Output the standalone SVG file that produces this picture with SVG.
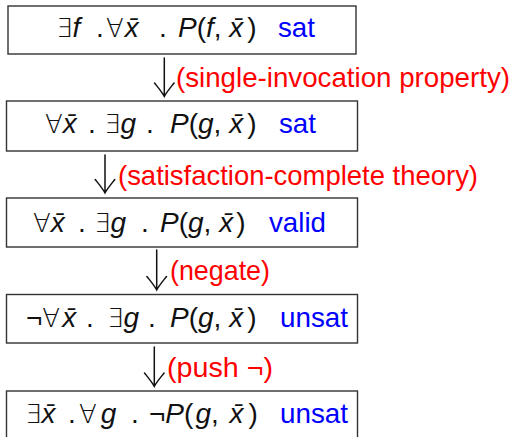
<svg xmlns="http://www.w3.org/2000/svg" width="514" height="437" viewBox="0 0 514 437">
<style>
  .box { fill: #ffffff; stroke: #333333; stroke-width: 1.4; }
  .m { font-family: "Liberation Sans", "DejaVu Sans", sans-serif; font-size: 28px; fill: #111111; }
  .q { font-family: "DejaVu Sans", sans-serif; font-size: 26px; font-weight: 200; }
  .it { font-style: italic; }
  .st { font-family: "Liberation Sans", sans-serif; font-size: 28px; fill: #0000ff; }
  .lbl { font-family: "Liberation Sans", "DejaVu Sans", sans-serif; font-size: 28px; fill: #ff0000; }
  .arr { fill: none; stroke: #111111; stroke-width: 1.5; stroke-linecap: round; }
</style>
<rect width="514" height="437" fill="#ffffff"/>

<g id="node1">
  <rect class="box" x="8" y="6" width="348" height="48"/>
  <text class="m" x="56" y="37"><tspan class="q">∃</tspan><tspan class="it">f</tspan></text>
  <text class="m" x="96" y="37">.</text>
  <text class="m" x="106" y="37"><tspan class="q">∀</tspan><tspan class="it" dx="1">x̄</tspan></text>
  <text class="m" x="159" y="37">.</text>
  <text class="m" x="178" y="37"><tspan class="it">P</tspan>(<tspan class="it">f</tspan>, <tspan class="it">x̄</tspan><tspan dx="4">)</tspan></text>
  <text class="st" x="278" y="37" textLength="37" lengthAdjust="spacingAndGlyphs">sat</text>
</g>

<g id="node2">
  <rect class="box" x="6.5" y="101" width="351" height="50"/>
  <text class="m" x="45" y="133"><tspan class="q">∀</tspan><tspan class="it">x̄</tspan></text>
  <text class="m" x="88" y="133">.</text>
  <text class="m" x="104" y="133"><tspan class="q">∃</tspan><tspan class="it">g</tspan></text>
  <text class="m" x="146" y="133">.</text>
  <text class="m" x="170" y="133"><tspan class="it">P</tspan>(<tspan class="it">g</tspan>, <tspan class="it">x̄</tspan><tspan dx="4">)</tspan></text>
  <text class="st" x="279" y="133" textLength="37" lengthAdjust="spacingAndGlyphs">sat</text>
</g>

<g id="node3">
  <rect class="box" x="6.5" y="198" width="351" height="49"/>
  <text class="m" x="33" y="232"><tspan class="q">∀</tspan><tspan class="it">x̄</tspan></text>
  <text class="m" x="78" y="232">.</text>
  <text class="m" x="94" y="232"><tspan class="q">∃</tspan><tspan class="it">g</tspan></text>
  <text class="m" x="141" y="232">.</text>
  <text class="m" x="160" y="232"><tspan class="it">P</tspan>(<tspan class="it">g</tspan>, <tspan class="it">x̄</tspan><tspan dx="3">)</tspan></text>
  <text class="st" x="269" y="232" textLength="57" lengthAdjust="spacingAndGlyphs">valid</text>
</g>

<g id="node4">
  <rect class="box" x="6.5" y="294.5" width="351" height="48.5"/>
  <text class="m" x="26" y="327">¬<tspan class="q">∀</tspan><tspan class="it" dx="2">x̄</tspan></text>
  <text class="m" x="86" y="327">.</text>
  <text class="m" x="107" y="327"><tspan class="q">∃</tspan><tspan class="it">g</tspan></text>
  <text class="m" x="148" y="327">.</text>
  <text class="m" x="170" y="327"><tspan class="it">P</tspan>(<tspan class="it">g</tspan>, <tspan class="it">x̄</tspan><tspan dx="4">)</tspan></text>
  <text class="st" x="280" y="327" textLength="68" lengthAdjust="spacingAndGlyphs">unsat</text>
</g>

<g id="node5">
  <rect class="box" x="6.5" y="391" width="351" height="60"/>
  <text class="m" x="25" y="423"><tspan class="q">∃</tspan><tspan class="it">x̄</tspan></text>
  <text class="m" x="68" y="423">.</text>
  <text class="m" x="79" y="423"><tspan class="q">∀</tspan><tspan class="it" dx="4">g</tspan></text>
  <text class="m" x="131" y="423">.</text>
  <text class="m" x="149" y="423">¬<tspan class="it">P</tspan>(<tspan class="it" dx="2">g</tspan>, <tspan class="it" dx="3">x̄</tspan><tspan dx="5">)</tspan></text>
  <text class="st" x="280" y="423" textLength="68" lengthAdjust="spacingAndGlyphs">unsat</text>
</g>

<g id="connectors">
  <path class="arr" d="M164.3 58 V96.5 M154.5 83 C158.5 88 162 92 164.3 96.5 C166.6 92 170.1 88 174.1 83"/>
  <path class="arr" d="M105 155 V193 M95.2 179.5 C99.2 184.5 102.7 188.5 105 193 C107.3 188.5 110.8 184.5 114.8 179.5"/>
  <path class="arr" d="M156.7 250 V290 M146.9 276.5 C150.9 281.5 154.4 285.5 156.7 290 C159 285.5 162.5 281.5 166.5 276.5"/>
  <path class="arr" d="M154.3 347 V386.5 M144.5 373 C148.5 378 152 382 154.3 386.5 C156.6 382 160.1 378 164.1 373"/>
  <text class="lbl" x="176" y="87" textLength="334" lengthAdjust="spacingAndGlyphs">(single-invocation property)</text>
  <text class="lbl" x="118" y="185" textLength="360" lengthAdjust="spacingAndGlyphs">(satisfaction-complete theory)</text>
  <text class="lbl" x="170" y="280" textLength="100" lengthAdjust="spacingAndGlyphs">(negate)</text>
  <text class="lbl" x="167" y="377" textLength="106" lengthAdjust="spacingAndGlyphs">(push ¬)</text>
</g>
</svg>
